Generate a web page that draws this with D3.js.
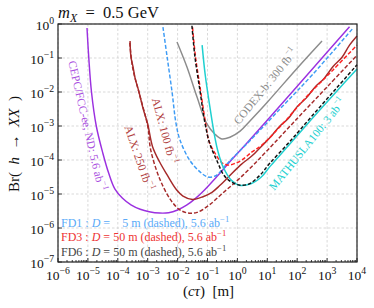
<!DOCTYPE html>
<html><head><meta charset="utf-8">
<script src="https://cdn.jsdelivr.net/npm/d3@7"></script>
<style>
body{margin:0;background:#fff}
svg{display:block}
text{font-family:"Liberation Serif","DejaVu Serif",serif}
</style>
</head><body>
<svg id="c" width="374" height="308"></svg>
<script>
// ---- data: [log10(c tau / m), log10(Br)] ----
const xTickExps = [-6,-5,-4,-3,-2,-1,0,1,2,3,4];
const yTickExps = [0,-1,-2,-3,-4,-5,-6,-7];

const cepc = [[-5.03,-0.12],[-4.97,-1.0],[-4.88,-2.0],[-4.72,-3.0],[-4.5,-3.8],[-4.3,-4.4],[-4.1,-4.85],[-3.85,-5.12],[-3.56,-5.32],[-3.25,-5.45],[-2.95,-5.52],[-2.6,-5.56],[-2.3,-5.55],[-2.0,-5.47],[-1.7,-5.33],[-1.4,-5.13],[-1.1,-4.88],[-0.7,-4.5],[-0.2,-4.0],[0.32,-3.5],[1.5,-2.33],[2.5,-1.33],[3.75,-0.08]];
const fd1 = [[-2.49,-0.09],[-2.35,-0.97],[-2.19,-1.97],[-2.05,-2.94],[-1.92,-3.41],[-1.6,-4.0],[-1.25,-4.35],[-0.98,-4.5],[-0.7,-4.45],[-0.41,-4.17],[0.0,-3.8],[0.42,-3.43],[1.5,-2.43],[2.5,-1.5],[3.87,-0.12]];
const fd6 = [[-1.52,-0.05],[-1.42,-0.97],[-1.25,-1.97],[-1.08,-2.94],[-0.92,-3.53],[-0.68,-4.03],[-0.45,-4.45],[-0.2,-4.65],[0.09,-4.74],[0.4,-4.7],[0.75,-4.45],[1.09,-4.09],[1.76,-3.45],[2.5,-2.7],[3.3,-1.9],[4.0,-1.2]];
const fd3 = [[-1.5,-0.1],[-1.4,-0.97],[-1.23,-1.97],[-1.06,-2.94],[-0.95,-3.45],[-0.75,-3.8],[-0.52,-4.08],[-0.31,-4.15],[-0.08,-4.1],[0.15,-4.0],[0.49,-3.76],[0.82,-3.56],[1.5,-2.95],[2.3,-2.15],[3.2,-1.35],[4.0,-0.62]];
const mathusla = [[-1.18,-0.62],[-1.08,-1.47],[-0.92,-2.44],[-0.75,-3.35],[-0.65,-3.75],[-0.48,-4.2],[-0.2,-4.6],[0.05,-4.74],[0.45,-4.7],[0.8,-4.5],[1.1,-4.18],[1.76,-3.52],[2.5,-2.78],[3.3,-2.0],[4.0,-1.32]];
const alx100 = [[-3.59,-0.5],[-3.56,-0.97],[-3.49,-1.26],[-3.42,-1.6],[-3.3,-1.97],[-3.15,-2.5],[-3.0,-2.94],[-2.84,-3.6],[-2.6,-4.06],[-2.35,-4.44],[-2.05,-4.86],[-1.82,-5.06],[-1.5,-5.16],[-1.15,-5.08],[-0.85,-4.95],[-0.6,-4.76],[-0.3,-4.5],[0.1,-4.15],[0.5,-3.87],[0.8,-3.6],[1.1,-3.33],[1.4,-3.02],[1.7,-2.78],[2.0,-2.43],[2.3,-2.18],[2.6,-1.85],[2.9,-1.6],[3.2,-1.25],[3.5,-0.98],[3.75,-0.62],[4.0,-0.35]];
const alx250 = [[-3.6,-0.55],[-3.5,-1.3],[-3.28,-2.05],[-3.0,-3.0],[-2.9,-3.7],[-2.6,-4.55],[-2.25,-5.15],[-1.95,-5.45],[-1.65,-5.56],[-1.35,-5.54],[-0.95,-5.33],[-0.5,-4.98],[0.0,-4.6],[0.45,-4.22],[1.0,-3.72],[2.0,-2.78],[3.0,-1.85],[4.0,-0.92]];
const codex = [[-2.02,-0.53],[-1.69,-1.26],[-1.35,-2.15],[-1.02,-2.94],[-0.75,-3.24],[-0.52,-3.38],[-0.25,-3.33],[0.09,-3.15],[0.42,-2.85],[1.0,-2.3],[2.0,-1.3],[2.83,-0.5]];

// ---- layout ----
const svg = d3.select("#c");
const L = 58, R = 357, T = 24, B = 262;
const x = d3.scaleLog().domain([1e-6, 1e4]).range([L, R]);
const y = d3.scaleLog().domain([1e-7, 1]).range([B, T]);
const P = d => [x(Math.pow(10, d[0])), y(Math.pow(10, d[1]))];

function rich(sel, parts, fs) {
  let shift = 0;
  parts.forEach(p => {
    const ts = sel.append("tspan").text(p.t);
    if (p.i) ts.attr("font-style", "italic");
    let target = 0;
    if (p.sup) { target = -fs * 0.42; ts.attr("font-size", fs * 0.72); }
    if (p.sub) { target = fs * 0.22; ts.attr("font-size", fs * 0.72); }
    if (target !== shift) { ts.attr("dy", target - shift); shift = target; }
  });
}

// grid
const grid = svg.append("g").attr("stroke", "#cfcfcf").attr("stroke-width", 0.8).attr("stroke-dasharray", "2.5,2");
xTickExps.forEach(e => grid.append("line").attr("x1", x(Math.pow(10, e))).attr("x2", x(Math.pow(10, e))).attr("y1", T).attr("y2", B));
yTickExps.forEach(e => grid.append("line").attr("y1", y(Math.pow(10, e))).attr("y2", y(Math.pow(10, e))).attr("x1", L).attr("x2", R));

// curves
const lineC = d3.line().x(d => P(d)[0]).y(d => P(d)[1]).curve(d3.curveCatmullRom.alpha(0.5));
const plot = svg.append("g");
function draw(data, color, dash, w) {
  plot.append("path").attr("d", lineC(data)).attr("fill", "none")
    .attr("stroke", color).attr("stroke-width", w || 1.45)
    .attr("stroke-dasharray", dash || null);
}
draw(codex, "#8c8c8c");
draw(cepc, "#9b30e0");
draw(alx100, "#a52a2a");
draw(alx250, "#a52a2a", "4,2");
draw(fd1, "#3d9bf5", "4,2");
draw(fd3, "#ff2020", "4,2");
draw(mathusla, "#1fd0d0", null, 1.5);
draw(fd6, "#111111", "3.5,2");

// frame
svg.append("rect").attr("x", L).attr("y", T).attr("width", R - L).attr("height", B - T)
  .attr("fill", "none").attr("stroke", "#222").attr("stroke-width", 1.2);

// ticks
const tk = svg.append("g").attr("stroke", "#222").attr("stroke-width", 0.9);
xTickExps.forEach(e => {
  const px = x(Math.pow(10, e));
  tk.append("line").attr("x1", px).attr("x2", px).attr("y1", B).attr("y2", B - 4);
  if (e < 4) for (let k = 2; k < 10; k++) {
    const m = x(k * Math.pow(10, e));
    tk.append("line").attr("x1", m).attr("x2", m).attr("y1", B).attr("y2", B - 2);
  }
});
yTickExps.forEach(e => {
  const py = y(Math.pow(10, e));
  tk.append("line").attr("x1", L).attr("x2", L + 4).attr("y1", py).attr("y2", py);
});

// tick labels
const fsT = 13.5;
xTickExps.forEach(e => {
  const t = svg.append("text").attr("x", x(Math.pow(10, e))).attr("y", 280)
    .attr("text-anchor", "middle").attr("font-size", fsT).attr("fill", "#111");
  rich(t, [{t: "10"}, {t: e < 0 ? "\u2212" + (-e) : String(e), sup: true}], fsT);
});
yTickExps.forEach(e => {
  const t = svg.append("text").attr("x", 54).attr("y", y(Math.pow(10, e)) + 5.5)
    .attr("text-anchor", "end").attr("font-size", fsT).attr("fill", "#111");
  rich(t, [{t: "10"}, {t: e < 0 ? "\u2212" + (-e) : String(e), sup: true}], fsT);
});

// title
const title = svg.append("text").attr("x", 58).attr("y", 18).attr("font-size", 16.5).attr("fill", "#111");
rich(title, [{t: "m", i: true}, {t: "X", i: true, sub: true}, {t: "\u2002=\u20020.5 GeV"}], 16.5);

// axis labels
const xl = svg.append("text").attr("x", (L + R) / 2 + 1).attr("y", 296).attr("text-anchor", "middle").attr("font-size", 15).attr("fill", "#111");
rich(xl, [{t: "("}, {t: "c\u03c4", i: true}, {t: ")\u2002[m]"}], 15);
const yl = svg.append("text").attr("transform", `translate(19,${(T + B) / 2 + 1}) rotate(-90)`).attr("text-anchor", "middle").attr("font-size", 15).attr("fill", "#111");
rich(yl, [{t: "Br(\u2002"}, {t: "h", i: true}, {t: "\u2002\u2192\u2002"}, {t: "XX", i: true}, {t: "\u2002)"}], 15);

// curve labels
function curveLabel(lx, ly, ang, color, parts, fs) {
  const [px, py] = P([lx, ly]);
  const t = svg.append("text").attr("transform", `translate(${px},${py}) rotate(${ang})`)
    .attr("text-anchor", "middle").attr("dominant-baseline", "middle")
    .attr("font-size", fs).attr("fill", color);
  rich(t, parts, fs);
}
curveLabel(-5.06, -3.0, 77, "#a94de0", [{t: "CEPC/FCC-ee, ND: 5.6 ab"}, {t: "\u22121", sup: true}], 11.5);
curveLabel(-2.47, -3.15, 75, "#b04040", [{t: "ALX: 100 fb"}, {t: "\u22121", sup: true}], 11.5);
curveLabel(-3.32, -3.95, 71, "#b04040", [{t: "ALX: 250 fb"}, {t: "\u22121", sup: true}], 11.5);
curveLabel(0.96, -1.85, -51, "#8c8c8c", [{t: "CODEX-b: 300 fb"}, {t: "\u22121", sup: true}], 11.5);
curveLabel(2.36, -3.55, -51, "#22d0d0", [{t: "MATHUSLA100: 3 ab"}, {t: "\u22121", sup: true}], 11.5);

// legend text
const legend = [
  {c: "#5aaaf8", y: 227, parts: [{t: "FD1 : "}, {t: "D", i: true}, {t: " =\u2002\u20025 m (dashed), 5.6 ab"}, {t: "\u22121", sup: true}]},
  {c: "#ee3333", y: 241, parts: [{t: "FD3 : "}, {t: "D", i: true}, {t: " = 50 m (dashed), 5.6 ab"}, {t: "\u22121", sup: true}]},
  {c: "#444444", y: 256, parts: [{t: "FD6 : "}, {t: "D", i: true}, {t: " = 50 m (dashed), 5.6 ab"}, {t: "\u22121", sup: true}]}
];
legend.forEach(l => {
  const t = svg.append("text").attr("x", 61).attr("y", l.y).attr("font-size", 12).attr("fill", l.c);
  rich(t, l.parts, 12);
});
</script>
</body></html>
